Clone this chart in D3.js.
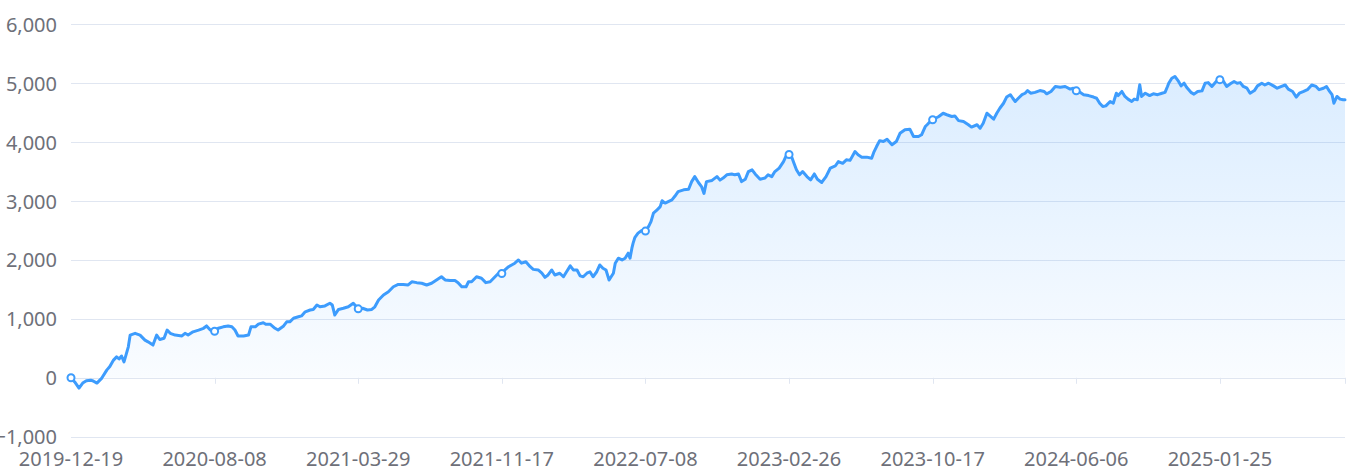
<!DOCTYPE html>
<html>
<head>
<meta charset="utf-8">
<script src="https://cdn.jsdelivr.net/npm/d3@7"></script>
<style>
  html, body { margin: 0; padding: 0; background: #ffffff; }
  svg { display: block; }
  text { font-family: "Noto Sans", "Liberation Sans", sans-serif; }
</style>
</head>
<body>
<svg id="chart" width="1353" height="475"></svg>
<script>
// ---- data ----
const startDate = "2019-12-19";
const endDate = "2025-08-16";
const tickLabels = ["2019-12-19","2020-08-08","2021-03-29","2021-11-17","2022-07-08","2023-02-26","2023-10-17","2024-06-06","2025-01-25"];
const yTicks = [-1000, 0, 1000, 2000, 3000, 4000, 5000, 6000];
// days since startDate
const dayIndex = [
  0,6,13,19,25,32,36,42,50,58,63,69,74,78,82,86,90,93,96,104,112,120,125,133,139,144,151,156,161,169,180,185,190,198,207,215,220,226,233,
  239,247,255,261,266,271,280,288,292,299,304,312,316,323,331,336,345,350,355,361,369,374,380,388,393,399,404,412,420,424,428,434,442,450,458,466,
  473,481,488,493,499,507,515,523,531,539,547,553,561,569,577,585,593,601,607,615,623,628,634,641,645,650,658,666,673,680,688,696,699,
  704,710,715,720,726,731,738,745,750,758,764,769,774,780,785,793,799,804,810,815,821,826,831,837,842,847,853,858,863,868,873,880,883,888,894,899,904,907,910,912,915,920,926,932,
  937,941,945,950,956,959,964,969,975,980,985,994,1002,1007,1012,1018,1023,1027,1031,1040,1048,1053,1058,1064,1072,1077,1083,1088,1094,1099,1105,1110,1118,1126,1131,1137,1142,1149,1156,1161,1165,
  1169,1173,1177,1182,1187,1194,1200,1206,1211,1218,1225,1232,1240,1245,1252,1258,1264,1272,1277,1283,1291,1299,1303,1307,1312,1318,1324,1332,1339,1345,1353,1361,1367,1375,1380,1386,1389,1394,1398,
  1408,1415,1421,1429,1434,1440,1448,1456,1461,1470,1475,1480,1486,1491,1497,1502,1507,1513,1518,1524,1528,1532,1537,1543,1548,1552,1557,1564,1572,1579,1583,1590,1597,1605,1613,1621,1626,1631,
  1637,1643,1651,1659,1664,1669,1674,1679,1686,1691,1696,1699,1705,1710,1715,1721,1725,1730,1734,1737,1743,1750,1756,1763,1770,1775,1779,1781,1786,1791,1797,1801,1806,1810,1817,1822,1828,1835,1840,1845,1851,1858,1864,
  1870,1875,1881,1887,1892,1897,1902,1908,1913,1920,1925,1932,1937,1943,1951,1957,1964,1970,1975,1982,1988,1993,2000,2006,2013,2020,2025,2032,2037,2042,2046,2049,2054,2059,2064,2067
];
const values = [
  0,-70,-175,-90,-50,-40,-55,-90,-5,130,190,300,355,320,370,270,415,525,725,755,725,640,610,555,725,650,670,810,755,725,710,755,725,780,810,840,880,810,790,
  840,865,880,865,810,710,710,725,865,865,910,935,910,910,840,810,880,950,950,1010,1035,1050,1120,1150,1160,1235,1205,1220,1265,1235,1065,1160,1180,1205,1265,1170,
  1180,1150,1160,1205,1320,1405,1460,1545,1585,1585,1575,1630,1615,1605,1575,1605,1660,1715,1660,1650,1650,1615,1545,1545,1630,1630,1715,1690,1615,1630,1715,1800,1770,
  1830,1885,1915,1945,2000,1945,1970,1885,1840,1830,1775,1705,1745,1830,1745,1775,1715,1800,1900,1830,1830,1730,1715,1775,1800,1715,1800,1915,1860,1830,1660,1775,1945,2030,2000,2030,2115,2030,2200,2285,2385,2455,2500,2490,
  2565,2650,2795,2840,2905,3005,2965,2990,3020,3085,3160,3190,3200,3330,3415,3315,3245,3130,3330,3350,3415,3355,3390,3445,3460,3445,3460,3330,3370,3500,3530,3460,3370,3390,3445,3415,3500,3560,3670,3785,3790,
  3755,3640,3530,3445,3500,3415,3360,3460,3370,3315,3415,3560,3595,3670,3640,3700,3690,3840,3785,3745,3745,3725,3840,3925,4025,4010,4050,3955,4010,4150,4210,4220,4095,4095,4125,4265,4295,4350,4380,
  4435,4490,4465,4435,4445,4365,4350,4295,4255,4295,4235,4320,4490,4445,4390,4490,4575,4660,4765,4805,4745,4690,4745,4805,4830,4875,4830,4845,4875,4860,4820,4860,4945,4930,4945,4900,4915,4870,
  4845,4805,4790,4765,4745,4660,4605,4615,4690,4660,4830,4790,4860,4775,4730,4690,4730,4720,4975,4775,4830,4790,4820,4805,4830,4845,4945,5000,5085,5115,5030,4955,5000,4930,4845,4815,4860,4870,5000,5010,4945,5030,5060,
  5030,4945,4990,5030,5000,5010,4945,4915,4830,4875,4955,5000,4970,5000,4955,4915,4945,4970,4900,4860,4765,4830,4860,4890,4970,4945,4890,4915,4945,4860,4805,4660,4775,4730,4720,4720
];

// ---- chart ----
const parse = d3.utcParse("%Y-%m-%d");
const start = parse(startDate);
const data = dayIndex.map((d, i) => ({ date: d3.utcDay.offset(start, d), value: values[i] }));
const tickDates = tickLabels.map(parse);

const svg = d3.select("#chart");
const pLeft = 71, pRight = 1345, pTop = 24.3, pBottom = 436.7;

const x = d3.scaleUtc().domain([start, parse(endDate)]).range([pLeft, pRight]);
const y = d3.scaleLinear().domain([-1000, 6000]).range([pBottom, pTop]);

const gridColor = "#e0e6f1";
const labelColor = "#6e7079";

// horizontal grid
svg.append("g").selectAll("line").data(yTicks).join("line")
  .attr("x1", pLeft).attr("x2", pRight)
  .attr("y1", d => Math.round(y(d)) + 0.5).attr("y2", d => Math.round(y(d)) + 0.5)
  .attr("stroke", gridColor).attr("stroke-width", 1);

// y labels
svg.append("g").selectAll("text").data(yTicks).join("text")
  .attr("x", 57).attr("y", d => y(d))
  .attr("text-anchor", "end").attr("dominant-baseline", "central")
  .attr("font-size", 20).attr("fill", labelColor)
  .text(d => d3.format(",")(d));

// x ticks along the zero axis
const tickMarks = tickDates.slice(1).concat([parse(endDate)]);
svg.append("g").selectAll("line").data(tickMarks).join("line")
  .attr("x1", d => Math.round(x(d)) + 0.5).attr("x2", d => Math.round(x(d)) + 0.5)
  .attr("y1", y(0)).attr("y2", y(0) + 6)
  .attr("stroke", gridColor).attr("stroke-width", 1);

// x labels
svg.append("g").selectAll("text").data(tickDates).join("text")
  .attr("x", d => x(d)).attr("y", 458)
  .attr("text-anchor", "middle").attr("dominant-baseline", "central")
  .attr("font-size", 20).attr("fill", labelColor)
  .text((d, i) => tickLabels[i]);

// gradient
const defs = svg.append("defs");
const grad = defs.append("linearGradient").attr("id", "areaGrad")
  .attr("gradientUnits", "userSpaceOnUse")
  .attr("x1", 0).attr("x2", 0)
  .attr("y1", y(d3.max(values))).attr("y2", y(0));
grad.append("stop").attr("offset", "0%").attr("stop-color", "#409eff").attr("stop-opacity", 0.19);
grad.append("stop").attr("offset", "100%").attr("stop-color", "#409eff").attr("stop-opacity", 0.03);

const area = d3.area().x(d => x(d.date)).y0(y(0)).y1(d => y(d.value));
svg.append("path").datum(data).attr("d", area).attr("fill", "url(#areaGrad)");

const line = d3.line().x(d => x(d.date)).y(d => y(d.value));
svg.append("path").datum(data).attr("d", line)
  .attr("fill", "none").attr("stroke", "#3d9cfd").attr("stroke-width", 3)
  .attr("stroke-linejoin", "round").attr("stroke-linecap", "round");

// symbols at labelled dates
const tickSet = new Set(tickDates.map(d => +d));
svg.append("g").selectAll("circle").data(data.filter(d => tickSet.has(+d.date))).join("circle")
  .attr("cx", d => x(d.date)).attr("cy", d => y(d.value)).attr("r", 3.5)
  .attr("fill", "#ffffff").attr("stroke", "#3d9cfd").attr("stroke-width", 2);
</script>
</body>
</html>
